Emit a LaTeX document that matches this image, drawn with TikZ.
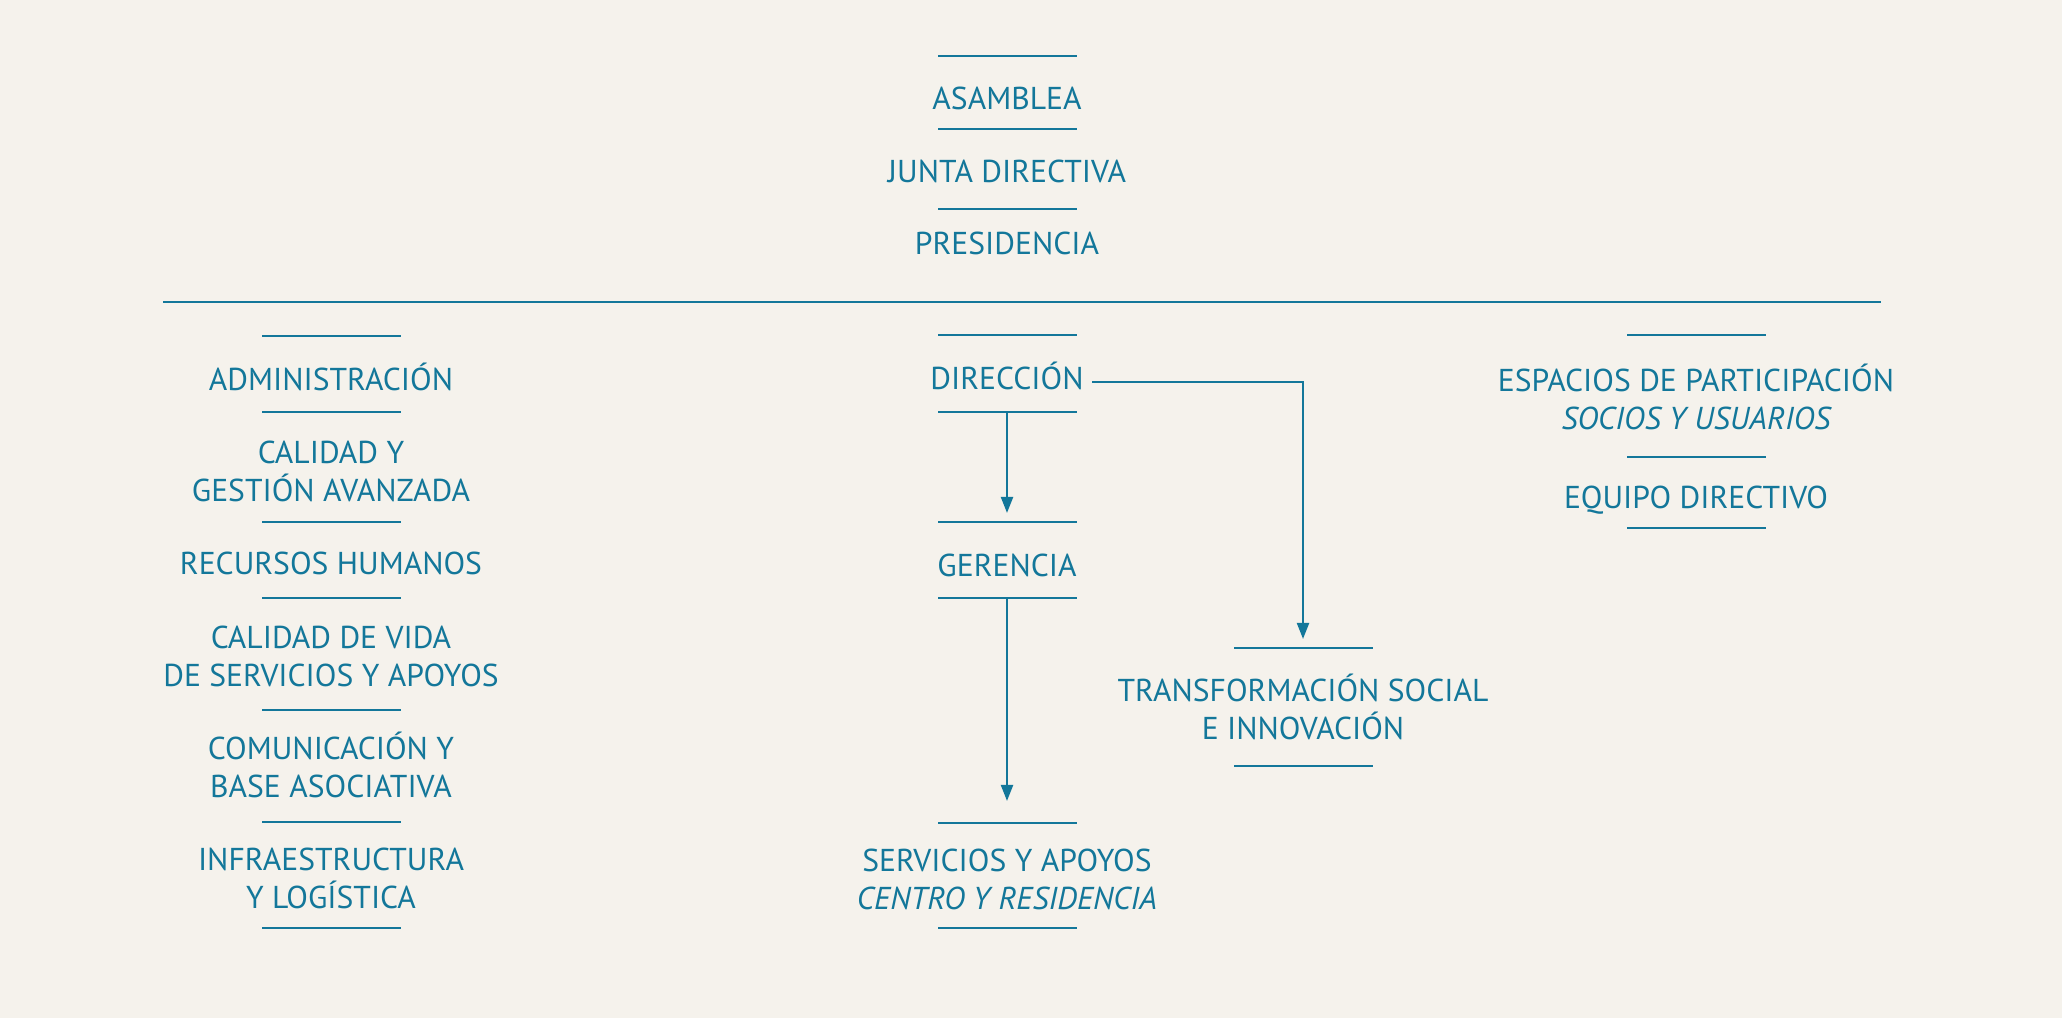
\documentclass[tikz,border=0pt]{standalone}
\usepackage{fontspec}
\setmainfont{PT Sans}
\usetikzlibrary{arrows.meta}
\definecolor{ink}{HTML}{13779A}
\definecolor{paper}{HTML}{F5F2EC}
\tikzset{
	bar/.style={fill=ink, minimum width=1.39cm, minimum height=0.6pt, inner sep=0pt, outer sep=0pt},
	lbl/.style={text=ink, font=\fontsize{9}{10.7}\selectfont, align=center, anchor=base, inner sep=0pt},
	arr/.style={draw=ink, line width=0.6pt, -{Triangle[width=0.12cm,length=0.16cm]}},
}

\begin{document}
\begin{tikzpicture}
			%%%%% START %%%%%
			\useasboundingbox (0, 0) rectangle (20.62, -10.18);
			\fill[paper] (0, 0) rectangle (20.62, -10.18);
			
			% top
			\node[bar] (t0) at (10.07, -0.56) {};
			\node[lbl] (asamblea) at (10.07, -1.09) {ASAMBLEA};
			\node[bar] (t1) at (10.07, -1.29) {};
			\node[lbl] (junta) at (10.07, -1.82) {JUNTA DIRECTIVA};
			\node[bar] (t2) at (10.07, -2.09) {};
			\node[lbl] (presi) at (10.07, -2.54) {PRESIDENCIA};
			
			\draw[ink, line width=0.6pt] (1.63, -3.02) -- (18.81, -3.02);
			
			% left (two-line labels sit on their last line)
			\node[bar] (l0) at (3.31, -3.36) {};
			\node[lbl] (admin) at (3.31, -3.90) {ADMINISTRACIÓN};
			\node[bar] (l1) at (3.31, -4.12) {};
			\node[lbl] (calidad) at (3.31, -5.01) {CALIDAD Y\\GESTIÓN AVANZADA};
			\node[bar] (l2) at (3.31, -5.22) {};
			\node[lbl] (rrhh) at (3.31, -5.74) {RECURSOS HUMANOS};
			\node[bar] (l3) at (3.31, -5.98) {};
			\node[lbl] (vida) at (3.31, -6.86) {CALIDAD DE VIDA\\DE SERVICIOS Y APOYOS};
			\node[bar] (l4) at (3.31, -7.10) {};
			\node[lbl] (comun) at (3.31, -7.97) {COMUNICACIÓN Y\\BASE ASOCIATIVA};
			\node[bar] (l5) at (3.31, -8.22) {};
			\node[lbl] (infra) at (3.31, -9.08) {INFRAESTRUCTURA\\Y LOGÍSTICA};
			\node[bar] (l6) at (3.31, -9.28) {};
			
			% middle
			\node[bar] (m0) at (10.07, -3.35) {};
			\node[lbl] (dir) at (10.07, -3.89) {DIRECCIÓN};
			\node[bar] (m1) at (10.07, -4.12) {};
			\node[bar] (m2) at (10.07, -5.22) {};
			\node[lbl] (ger) at (10.07, -5.76) {GERENCIA};
			\node[bar] (m3) at (10.07, -5.98) {};
			\node[bar] (m4) at (10.07, -8.23) {};
			\node[lbl] (serv) at (10.07, -9.09) {SERVICIOS Y APOYOS\\\itshape CENTRO Y RESIDENCIA};
			\node[bar] (m5) at (10.07, -9.28) {};
			
			% transformacion
			\node[bar] (s0) at (13.03, -6.48) {};
			\node[lbl] (trans) at (13.03, -7.39) {TRANSFORMACIÓN SOCIAL\\E INNOVACIÓN};
			\node[bar] (s1) at (13.03, -7.66) {};
			
			% right
			\node[bar] (r0) at (16.96, -3.35) {};
			\node[lbl] (espacios) at (16.96, -4.29) {ESPACIOS DE PARTICIPACIÓN\\\itshape SOCIOS Y USUARIOS};
			\node[bar] (r1) at (16.96, -4.57) {};
			\node[lbl] (equipo) at (16.96, -5.08) {EQUIPO DIRECTIVO};
			\node[bar] (r2) at (16.96, -5.28) {};
			
			% arrows
			\draw[arr, shorten >=0.08cm] (m1.south) -- (m2.north);
			\draw[arr, shorten >=0.21cm] (m3.south) -- (m4.north);
			\draw[arr, shorten >=0.08cm] ([xshift=0.08cm, yshift=0.07cm]dir.base east) -| (s0.north);
			
			%%%%% END %%%%%
\end{tikzpicture}
\end{document}
